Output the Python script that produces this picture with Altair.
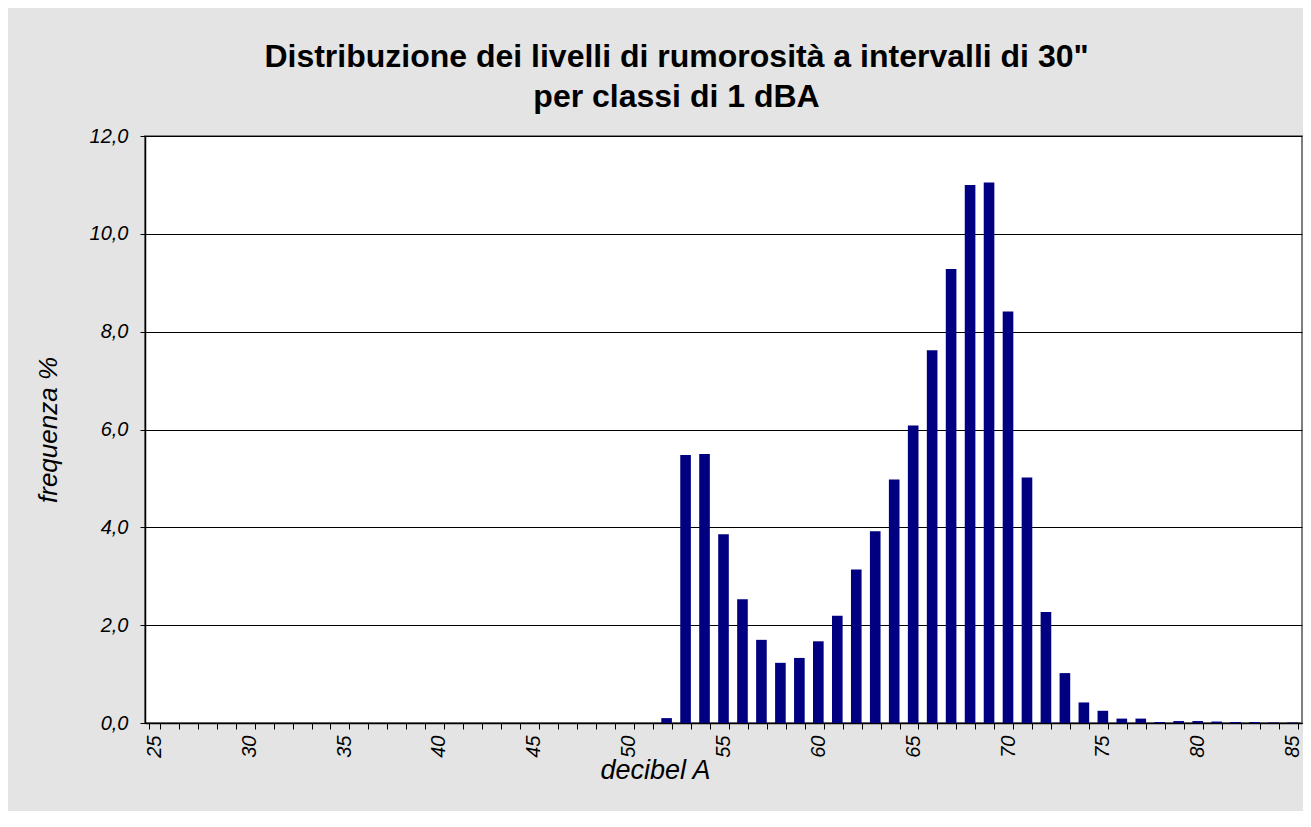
import altair as alt
import pandas as pd

decibel = list(range(25, 86))
freq_nonzero = {
    52: 0.10, 53: 5.48, 54: 5.50, 55: 3.86, 56: 2.53, 57: 1.70, 58: 1.23,
    59: 1.33, 60: 1.67, 61: 2.19, 62: 3.14, 63: 3.92, 64: 4.98, 65: 6.08,
    66: 7.62, 67: 9.28, 68: 11.00, 69: 11.05, 70: 8.41, 71: 5.02, 72: 2.27,
    73: 1.02, 74: 0.42, 75: 0.25, 76: 0.09, 77: 0.09, 78: 0.02, 79: 0.04,
    80: 0.04, 81: 0.03, 82: 0.02, 83: 0.02, 84: 0.01, 85: 0.01,
}
frequenza = [freq_nonzero.get(d, 0.0) for d in decibel]
y_ticks = [0, 2, 4, 6, 8, 10, 12]

df = pd.DataFrame({"decibel": decibel, "frequenza": frequenza})

FONT = "Liberation Sans"

chart = (
    alt.Chart(df)
    .mark_bar(color="#000080")
    .encode(
        x=alt.X(
            "decibel:O",
            sort=decibel,
            scale=alt.Scale(paddingInner=0.44, paddingOuter=0.22),
            axis=alt.Axis(
                title="decibel A",
                titleFont=FONT,
                titleFontSize=27,
                titleFontStyle="italic",
                titleFontWeight="normal",
                titleColor="black",
                titleX=510,
                titleY=55,
                titleAlign="center",
                titleBaseline="alphabetic",
                labelExpr="datum.value % 5 == 0 ? datum.value : ''",
                labelAngle=270,
                labelAlign="right",
                labelBaseline="middle",
                labelFont=FONT,
                labelFontSize=20,
                labelFontStyle="italic",
                labelColor="black",
                labelPadding=6,
                labelOverlap=False,
                tickBand="extent",
                tickColor="black",
                tickSize=6,
                domainColor="black",
                domainWidth=1.5,
                grid=False,
            ),
        ),
        y=alt.Y(
            "frequenza:Q",
            scale=alt.Scale(domain=[0, 12], nice=False),
            axis=alt.Axis(
                title="frequenza %",
                titleFont=FONT,
                titleFontSize=26,
                titleFontStyle="italic",
                titleFontWeight="normal",
                titleColor="black",
                titlePadding=28,
                values=y_ticks,
                labelExpr="replace(format(datum.value, '.1f'), '.', ',')",
                labelFont=FONT,
                labelFontSize=20,
                labelFontStyle="italic",
                labelColor="black",
                labelPadding=12,
                tickColor="black",
                tickSize=5,
                domainColor="black",
                domainWidth=1.5,
                grid=True,
                gridColor="black",
                gridWidth=1,
            ),
        ),
    )
    .properties(
        width=1157,
        height=587,
        autosize=alt.AutoSizeParams(type="none"),
        padding={"left": 137, "top": 128, "right": 1, "bottom": 88},
        background="#e4e4e4",
        title=alt.TitleParams(
            text=["Distribuzione dei livelli di rumorosità a intervalli di 30\"", "per classi di 1 dBA"],
            font=FONT,
            fontSize=32,
            fontWeight="bold",
            color="black",
            anchor="middle",
            dx=-47,
            offset=12,
            lineHeight=40,
        ),
    )
    .configure_view(fill="white", stroke="#808080", strokeWidth=2)
)

chart.save("out.html", embed_options={"renderer": "svg", "actions": False})
